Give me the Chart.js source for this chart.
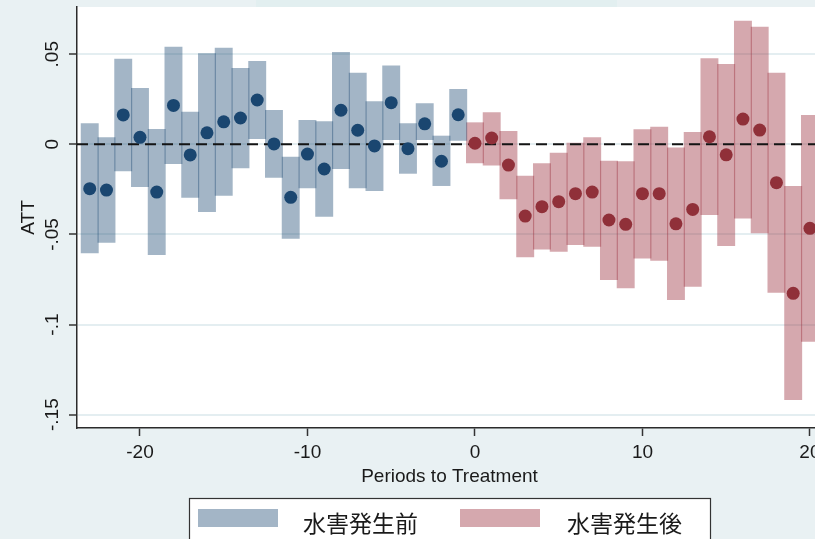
<!DOCTYPE html>
<html>
<head>
<meta charset="utf-8">
<script src="https://cdn.jsdelivr.net/npm/chart.js@4"></script>
<style>
  html, body { margin: 0; padding: 0; overflow: hidden; background: #e9f1f3; }
  #wrap { width: 815px; height: 539px; overflow: hidden; }
  #wrap div { width: 840px; height: 560px; }
</style>
</head>
<body>
<div id="wrap"><div><canvas id="grafico"></canvas></div></div>
<script>
// periodos antes / despues del evento
const preX = [-23, -22, -21, -20, -19, -18, -17, -16, -15, -14, -13, -12,
              -11, -10, -9, -8, -7, -6, -5, -4, -3, -2, -1];
const preAtt  = [-0.0246, -0.0254, 0.0163, 0.0039, -0.0265, 0.0216, -0.0059, 0.0064, 0.0125, 0.0146, 0.0246, 0.0002,
                 -0.0294, -0.0054, -0.0137, 0.0189, 0.0078, -0.0009, 0.0231, -0.0024, 0.0114, -0.0094, 0.0164];
const preLow  = [-0.0605, -0.0546, -0.0150, -0.0237, -0.0614, -0.0109, -0.0296, -0.0376, -0.0285, -0.0133, 0.0029, -0.0185,
                 -0.0524, -0.0244, -0.0402, -0.0137, -0.0244, -0.0259, 0.0024, -0.0163, 0.0024, -0.0231, 0.0020];
const preHigh = [0.0117, 0.0039, 0.0475, 0.0312, 0.0085, 0.0542, 0.0181, 0.0505, 0.0536, 0.0423, 0.0462, 0.0190,
                 -0.0069, 0.0135, 0.0128, 0.0512, 0.0397, 0.0239, 0.0438, 0.0117, 0.0228, 0.0048, 0.0307];

const postX = [0, 1, 2, 3, 4, 5, 6, 7, 8, 9, 10, 11, 12, 13, 14, 15, 16, 17, 18, 19, 20];
const postAtt  = [0.0006, 0.0035, -0.0115, -0.0398, -0.0346, -0.0318, -0.0274, -0.0265, -0.0420, -0.0444, -0.0274,
                  -0.0274, -0.0441, -0.0361, 0.0042, -0.0058, 0.0140, 0.0079, -0.0213, -0.0827, -0.0466];
const postLow  = [-0.0105, -0.0117, -0.0305, -0.0627, -0.0583, -0.0596, -0.0559, -0.0568, -0.0753, -0.0799, -0.0633,
                  -0.0646, -0.0864, -0.0790, -0.0392, -0.0564, -0.0411, -0.0494, -0.0824, -0.1419, -0.1095];
const postHigh = [0.0122, 0.0178, 0.0074, -0.0174, -0.0105, -0.0047, 0.0009, 0.0039, -0.0091, -0.0094, 0.0083,
                  0.0098, -0.0017, 0.0068, 0.0477, 0.0446, 0.0686, 0.0653, 0.0397, -0.0231, 0.0163];

const seriesNames = ['水害発生前', '水害発生後'];
const xTicks = [-20, -10, 0, 10, 20];
const yTicks = [-0.15, -0.1, -0.05, 0, 0.05];
const yTickLabels = ['-.15', '-.1', '-.05', '0', '.05'];

const azulBarra = 'rgba(26, 70, 112, 0.4)';
const rojoBarra = 'rgba(150, 38, 52, 0.4)';
const fuente = '"Liberation Sans", Arial, sans-serif';

Chart.defaults.font.family = fuente;
Chart.defaults.font.size = 19;
Chart.defaults.color = '#1a1a1a';

function barras(xs, lo, hi) {
    return xs.map((x, i) => ({ x: x, y: [lo[i], hi[i]] }));
}
function puntos(xs, v) {
    return xs.map((x, i) => ({ x: x, y: v[i] }));
}

// fondo, linea de cero, etiquetas del eje y y leyenda
const extras = {
    id: 'extras',
    beforeDraw(chart) {
        const c = chart.ctx, a = chart.chartArea;
        c.save();
        c.fillStyle = '#e9f1f3';
        c.fillRect(0, 0, chart.width, chart.height);
        c.fillStyle = '#e2eff0';
        c.fillRect(256, 0, 361, a.top);
        c.fillStyle = '#ffffff';
        c.fillRect(a.left, a.top, a.right - a.left, a.bottom - a.top);
        c.restore();
    },
    beforeDatasetsDraw(chart) { chart.$ceroHecho = false; },
    beforeDatasetDraw(chart, args) {
        if (args.meta.type !== 'scatter' || chart.$ceroHecho) return;
        chart.$ceroHecho = true;
        const c = chart.ctx, a = chart.chartArea;
        const py = chart.scales.y.getPixelForValue(0);
        c.save();
        c.strokeStyle = '#141414';
        c.lineWidth = 2;
        c.setLineDash([11, 6]);
        c.beginPath();
        c.moveTo(a.left, py);
        c.lineTo(a.right, py);
        c.stroke();
        c.restore();
    },
    afterDraw(chart) {
        const c = chart.ctx;
        const ys = chart.scales.y;
        c.save();
        c.fillStyle = '#1a1a1a';
        c.font = '19px ' + fuente;
        c.textAlign = 'center';
        c.textBaseline = 'middle';
        yTicks.forEach((v, i) => {
            c.save();
            c.translate(53, ys.getPixelForValue(v));
            c.rotate(-Math.PI / 2);
            c.fillText(yTickLabels[i], 0, 0);
            c.restore();
        });
        // leyenda con marco
        c.fillStyle = '#ffffff';
        c.fillRect(189, 498, 521, 60);
        c.strokeStyle = '#333333';
        c.lineWidth = 1.2;
        c.strokeRect(189.5, 498.5, 521, 60);
        const cols = [azulBarra, rojoBarra];
        const sx = [198, 460], tx = [303, 567];
        c.font = '23px "Noto Sans CJK JP", sans-serif';
        c.textAlign = 'left';
        for (let i = 0; i < 2; i++) {
            c.fillStyle = cols[i];
            c.fillRect(sx[i], 509, 80, 18);
            c.fillStyle = '#1a1a1a';
            c.fillText(seriesNames[i], tx[i], 523);
        }
        c.restore();
    }
};

const ctx = document.getElementById('grafico').getContext('2d');

const grafico = new Chart(ctx, {
    type: 'bar',
    data: {
        datasets: [{
            label: seriesNames[0],
            data: barras(preX, preLow, preHigh),
            backgroundColor: azulBarra,
            borderWidth: 0,
            grouped: false,
            barPercentage: 1.07,
            categoryPercentage: 1,
            order: 2
        },
        {
            label: seriesNames[1],
            data: barras(postX, postLow, postHigh),
            backgroundColor: rojoBarra,
            borderWidth: 0,
            grouped: false,
            barPercentage: 1.07,
            categoryPercentage: 1,
            order: 2
        },
        {
            type: 'scatter',
            label: seriesNames[0] + ' ATT',
            data: puntos(preX, preAtt),
            backgroundColor: '#1a4670',
            borderWidth: 0,
            pointRadius: 6.5,
            order: 1
        },
        {
            type: 'scatter',
            label: seriesNames[1] + ' ATT',
            data: puntos(postX, postAtt),
            backgroundColor: '#903039',
            borderWidth: 0,
            pointRadius: 6.5,
            order: 1
        }]
    },
    options: {
        responsive: true,
        maintainAspectRatio: false,
        animation: false,
        layout: { padding: { left: 0, top: 7, right: 18, bottom: 72 } },
        plugins: {
            legend: { display: false },
            tooltip: { enabled: false }
        },
        scales: {
            x: {
                type: 'linear',
                min: -23.76,
                max: 20.72,
                offset: false,
                afterBuildTicks: s => { s.ticks = xTicks.map(v => ({ value: v })); },
                afterFit: s => { s.height = 60; },
                grid: { drawOnChartArea: false, offset: false, tickLength: 8, tickColor: '#333333', tickWidth: 1.5 },
                border: { color: '#2b2b2b', width: 1.5 },
                ticks: { padding: 5, maxRotation: 0, callback: v => String(v) },
                title: { display: true, text: 'Periods to Treatment', padding: { top: 0, bottom: 0 } }
            },
            y: {
                type: 'linear',
                min: -0.1574,
                max: 0.0762,
                afterBuildTicks: s => { s.ticks = yTicks.map(v => ({ value: v })); },
                afterFit: s => { s.width = 77; },
                grid: { color: '#e4eef1', lineWidth: 2, tickLength: 8, tickColor: '#333333', tickWidth: 1.5 },
                border: { color: '#2b2b2b', width: 1.5 },
                ticks: { display: false },
                title: { display: true, text: 'ATT', padding: { top: 17, bottom: 0 } }
            }
        }
    },
    plugins: [extras]
});
</script>
</body>
</html>
